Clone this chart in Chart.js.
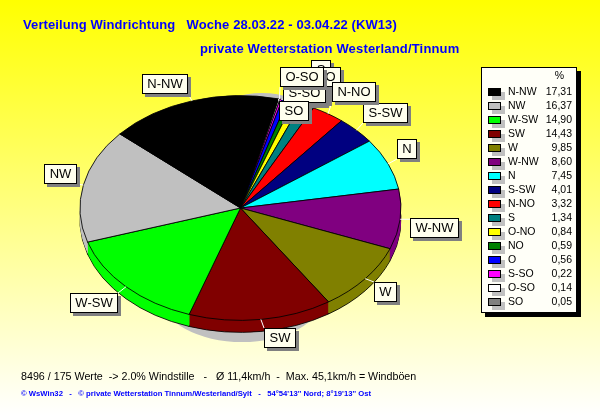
<!DOCTYPE html>
<html>
<head>
<meta charset="utf-8">
<title>Verteilung Windrichtung</title>
<script src="https://cdn.jsdelivr.net/npm/chart.js@4"></script>
<style>
    html, body { margin: 0; padding: 0; background: #fff; }
    canvas { display: block; }
</style>
</head>
<body>
<canvas id="grafik" width="600" height="415"></canvas>
<script>
// Data, in the order of the legend
const richtungen = ['N-NW', 'NW', 'W-SW', 'SW', 'W', 'W-NW', 'N', 'S-SW', 'N-NO', 'S', 'O-NO', 'NO', 'O', 'S-SO', 'O-SO', 'SO'];
const anteile = [17.31, 16.37, 14.90, 14.43, 9.85, 8.60, 7.45, 4.01, 3.32, 1.34, 0.84, 0.59, 0.56, 0.22, 0.14, 0.05];
const farben = ['#000000', '#c0c0c0', '#00ff00', '#800000', '#808000', '#800080', '#00ffff', '#000080', '#ff0000', '#008080', '#ffff00', '#008000', '#0000ff', '#ff00ff', '#ffffff', '#808080'];

const titel1 = 'Verteilung Windrichtung   Woche 28.03.22 - 03.04.22 (KW13)';
const titel2 = 'private Wetterstation Westerland/Tinnum';
const fuss1 = '8496 / 175 Werte  -> 2.0% Windstille   -   Ø 11,4km/h  -  Max. 45,1km/h = Windböen';
const fuss2 = '© WsWin32   -   © private Wetterstation Tinnum/Westerland/Sylt   -   54°54\'13\'\' Nord; 8°19\'13\'\' Ost';

// Pie geometry: the library draws a circle, we squash it to an ellipse
const cx = 240.5, cy = 208, radius = 161, squash = 0.70, tiefe = 12;

// Top-left corner of the label boxes, back to front (they overlap in the original)
const labelPos = {
    'S': [311, 60], 'O-NO': [284, 83], 'NO': [295, 85], 'S-SO': [283, 83], 'O': [320, 67],
    'O-SO': [280, 67], 'SO': [279, 101], 'N-NW': [142, 74], 'NW': [44, 164], 'W-SW': [70, 293],
    'SW': [264, 328], 'W': [374, 282], 'W-NW': [410, 218], 'N': [397, 139], 'S-SW': [363, 103], 'N-NO': [332, 82]
};

// The original runs counter-clockwise, Chart.js clockwise
const pieLabels = richtungen.slice().reverse();
const pieValues = anteile.slice().reverse();
const pieColors = farben.slice().reverse();

function drawBox(ctx, x, y, w, h, fill, shadow, off) {
    ctx.fillStyle = shadow;
    ctx.fillRect(x + off, y + off, w, h);
    ctx.fillStyle = fill;
    ctx.fillRect(x, y, w, h);
    ctx.strokeStyle = '#000';
    ctx.lineWidth = 1;
    ctx.strokeRect(x + 0.5, y + 0.5, w - 1, h - 1);
}

const pageDeko = {
    id: 'pageDeko',
    beforeDraw(chart) {
        const ctx = chart.ctx;
        const g = ctx.createLinearGradient(0, 0, 0, 415);
        g.addColorStop(0, '#ffff00');
        g.addColorStop(1, '#ffffff');
        ctx.fillStyle = g;
        ctx.fillRect(0, 0, 600, 415);
    },
    beforeDatasetsDraw(chart) {
        const ctx = chart.ctx;
        const arcs = chart.getDatasetMeta(0).data;

        // shadow
        ctx.fillStyle = '#c0c0c0';
        ctx.beginPath();
        ctx.ellipse(242, 298, 80, 44, 0, 0, Math.PI * 2);
        ctx.fill();
        ctx.beginPath();
        ctx.ellipse(262, 110, 40, 17, 0, 0, Math.PI * 2);
        ctx.fill();

        // side wall: lowest layer with outline, the rest only filled
        for (let d = tiefe; d > 0; d--) {
            ctx.save();
            ctx.translate(cx, cy + d);
            ctx.scale(1, squash);
            ctx.translate(-cx, -cy);
            arcs.forEach(arc => {
                const opt = arc.options;
                if (d !== tiefe) arc.options = Object.assign({}, opt, { borderWidth: 0 });
                arc.draw(ctx);
                arc.options = opt;
            });
            ctx.restore();
        }

        // top surface, restored again in afterDatasetsDraw
        ctx.save();
        ctx.translate(cx, cy);
        ctx.scale(1, squash);
        ctx.translate(-cx, -cy);
    },
    afterDatasetsDraw(chart) {
        const ctx = chart.ctx;
        ctx.restore();
        drawLabels(chart, ctx);
    },
    afterDraw(chart) {
        const ctx = chart.ctx;
        drawTexts(ctx);
        drawLegend(ctx);
    }
};

function drawLabels(chart, ctx) {
    const arcs = chart.getDatasetMeta(0).data;
    ctx.font = '13px "Liberation Sans"';
    ctx.textBaseline = 'middle';
    ctx.textAlign = 'center';

    const boxes = {};
    Object.keys(labelPos).forEach(name => {
        boxes[name] = { x: labelPos[name][0], y: labelPos[name][1], w: Math.round(ctx.measureText(name).width) + 11, h: 20 };
    });

    // leader lines
    ctx.strokeStyle = '#ffffff';
    ctx.lineWidth = 1;
    pieLabels.forEach((name, i) => {
        const arc = arcs[i], b = boxes[name];
        const mid = (arc.startAngle + arc.endAngle) / 2;
        const px = cx + arc.outerRadius * Math.cos(mid);
        const py = cy + arc.outerRadius * squash * Math.sin(mid);
        const qx = Math.min(Math.max(px, b.x), b.x + b.w);
        const qy = Math.min(Math.max(py, b.y), b.y + b.h);
        ctx.beginPath();
        ctx.moveTo(px, py);
        ctx.lineTo(qx, qy);
        ctx.stroke();
    });

    Object.keys(boxes).forEach(name => {
        const b = boxes[name];
        drawBox(ctx, b.x, b.y, b.w, b.h, '#ffffee', '#808080', 3);
        ctx.fillStyle = '#000';
        ctx.fillText(name, b.x + b.w / 2, b.y + b.h / 2 + 0.5);
    });
}

function drawTexts(ctx) {
    ctx.textAlign = 'left';
    ctx.textBaseline = 'middle';
    ctx.fillStyle = '#0000ff';
    ctx.font = 'bold 13px "Liberation Sans"';
    ctx.letterSpacing = '0.1px';
    ctx.fillText(titel1, 23, 25);
    ctx.letterSpacing = '0.17px';
    ctx.fillText(titel2, 200, 49);
    ctx.letterSpacing = '0px';
    ctx.fillStyle = '#000';
    ctx.font = '10.7px "Liberation Sans"';
    ctx.fillText(fuss1, 21, 377);
    ctx.fillStyle = '#0000ff';
    ctx.font = 'bold 7.7px "Liberation Sans"';
    ctx.fillText(fuss2, 21, 394);
}

function drawLegend(ctx) {
    ctx.fillStyle = '#000';
    ctx.fillRect(485, 71, 96, 246);
    ctx.fillStyle = '#fffff8';
    ctx.fillRect(481, 67, 96, 246);
    ctx.strokeStyle = '#000';
    ctx.lineWidth = 1;
    ctx.strokeRect(481.5, 67.5, 95, 245);

    ctx.textBaseline = 'middle';
    ctx.font = '10.5px "Liberation Sans"';
    ctx.fillStyle = '#000';
    ctx.textAlign = 'right';
    ctx.fillText('%', 564, 76);
    richtungen.forEach((name, i) => {
        const y = 88 + i * 14;
        drawBox(ctx, 488, y, 13, 8, farben[i], '#c0c0c0', 4);
        ctx.fillStyle = '#000';
        ctx.textAlign = 'left';
        ctx.fillText(name, 508, y + 4);
        ctx.textAlign = 'right';
        ctx.fillText(anteile[i].toFixed(2).replace('.', ','), 572, y + 4);
    });
}

const chart = new Chart(document.getElementById('grafik').getContext('2d'), {
    type: 'pie',
    data: {
        labels: pieLabels,
        datasets: [{
            data: pieValues,
            backgroundColor: pieColors,
            borderColor: '#000000',
            borderWidth: 1
        }]
    },
    options: {
        responsive: false,
        animation: false,
        events: [],
        rotation: 13.6,
        layout: {
            padding: { left: cx - radius, right: 600 - cx - radius, top: cy - radius, bottom: 415 - cy - radius }
        },
        plugins: { legend: { display: false }, title: { display: false }, tooltip: { enabled: false } }
    },
    plugins: [pageDeko]
});
</script>
</body>
</html>
